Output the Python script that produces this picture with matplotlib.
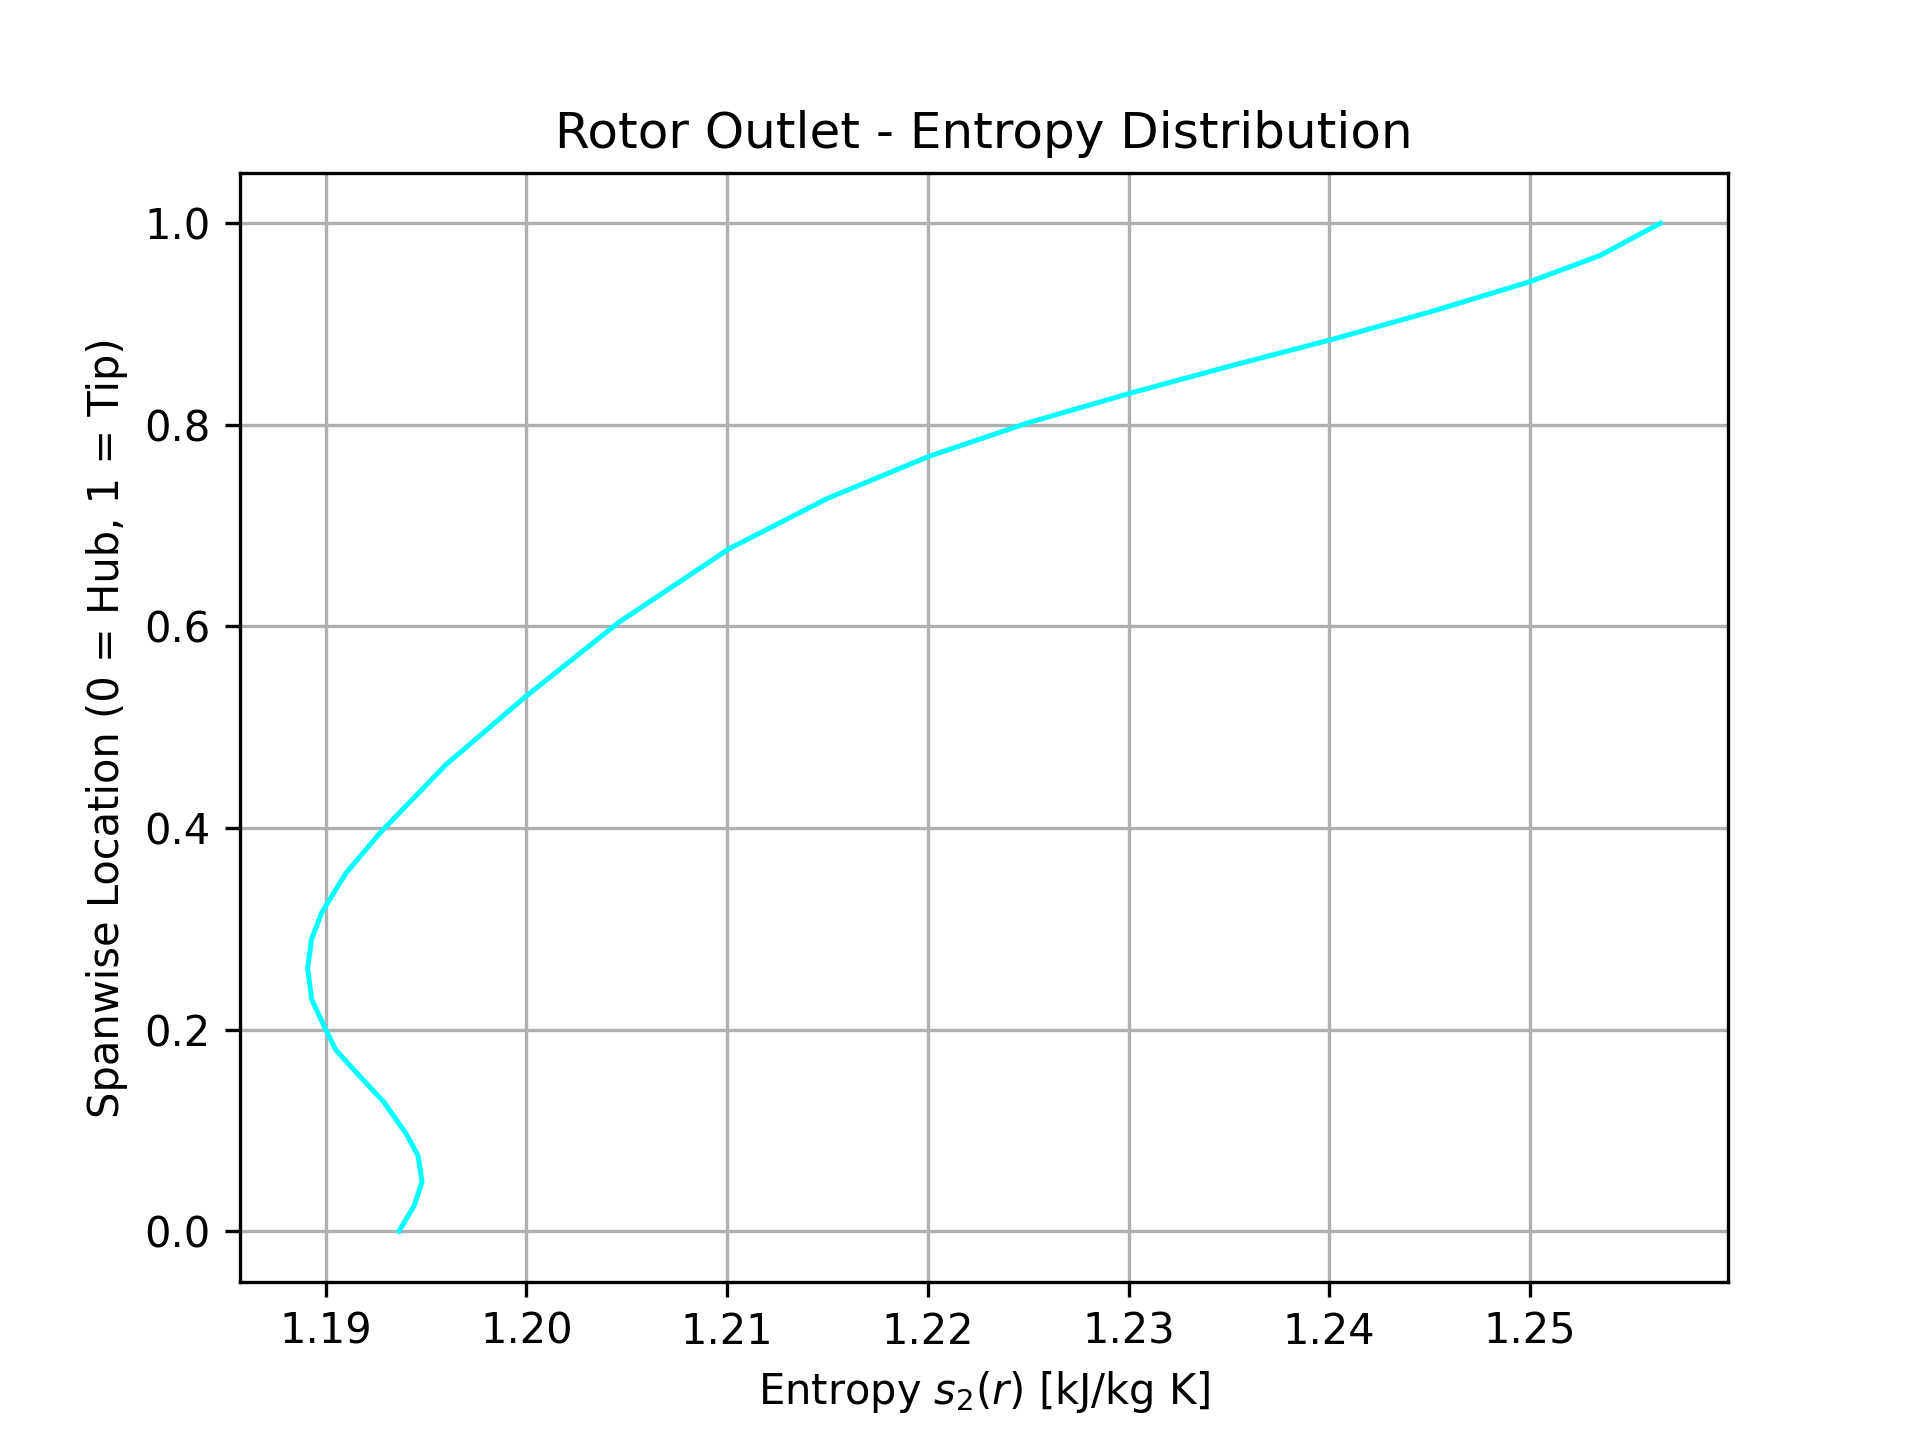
import numpy as np
import matplotlib
matplotlib.use("Agg")
import matplotlib.pyplot as plt

# values
entropy = [1.19365, 1.1944, 1.1948, 1.1946, 1.1940, 1.1929, 1.1915, 1.1905, 1.1900,
           1.1893, 1.1891, 1.1893, 1.1898, 1.1910, 1.1927, 1.1960, 1.2000, 1.2046,
           1.2101, 1.2150, 1.2201, 1.2250, 1.2302, 1.2352, 1.2402, 1.2452, 1.2500,
           1.2535, 1.2565]
span = [0.0, 0.025, 0.049, 0.075, 0.097, 0.128, 0.158, 0.180, 0.200,
        0.230, 0.261, 0.290, 0.316, 0.355, 0.395, 0.463, 0.531, 0.604,
        0.677, 0.727, 0.769, 0.802, 0.832, 0.859, 0.885, 0.913, 0.942,
        0.968, 1.0]

plt.figure(figsize=(6.4, 4.8), dpi=300)
plt.plot(entropy, span, color='cyan', linewidth=1.2)
plt.xlabel(r"Entropy $s_2(r)$ [kJ/kg K]")
plt.ylabel("Spanwise Location (0 = Hub, 1 = Tip)")
plt.title("Rotor Outlet - Entropy Distribution")
plt.grid()
plt.savefig("out.png", dpi=300)
